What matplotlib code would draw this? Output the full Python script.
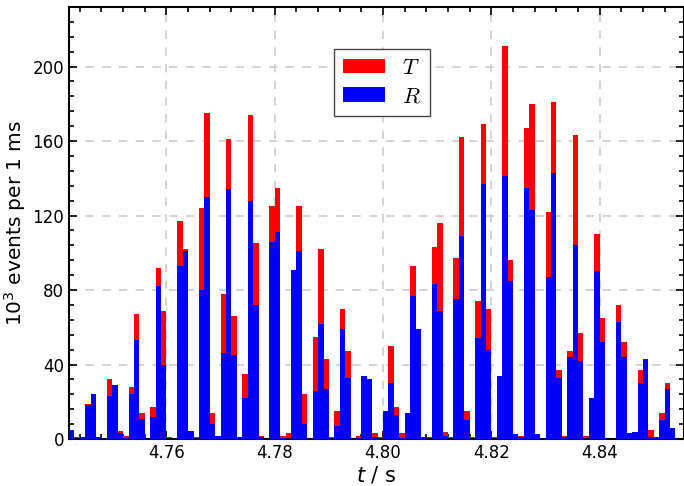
import numpy as np
import matplotlib
matplotlib.use('Agg')
import matplotlib.pyplot as plt
from matplotlib.ticker import MultipleLocator, FormatStrFormatter

# histogram of events in 1 ms bins, starting at t0
t0 = 4.742
bin_width = 0.001

# T (total) per bin, in 10^3 events
T = [4, 1.2, 1, 19, 23.5, 1, 0, 32, 29, 4.3,
     1.8, 28, 67, 14, 0, 17, 92, 69, 1, 0,
     117, 102, 4, 1, 124, 175, 14, 1.8, 78, 161,
     66, 1, 35, 174, 105, 1.8, 0, 125, 135, 1.8,
     3, 90, 125, 24, 0, 55, 102, 43, 1, 15,
     70, 47, 0, 1.8, 33, 31, 3, 1, 14, 50,
     17, 3, 13, 93, 58, 1, 1, 103, 116, 4,
     1, 97, 162, 15, 1, 74, 169, 70, 1, 33,
     211, 96, 2.9, 1.8, 167, 180, 2.9, 0, 122, 181,
     37, 1.8, 47, 163, 57, 1.8, 22, 110, 65, 0,
     0, 72, 52, 3, 4, 37, 42, 5, 1, 14,
     30, 6, 0]

# R per bin, in 10^3 events
R = [5, 0, 1, 18, 24, 1, 0, 23, 29, 3,
     0.5, 24, 53, 11, 0, 12, 82, 40, 0, 0,
     93, 101, 4.3, 0, 80, 130, 8, 1.8, 46, 134,
     45, 1, 22, 128, 72, 1, 0, 106, 111, 0.5,
     0, 91, 101, 8, 0, 26, 62, 27, 0, 7,
     59, 33, 0, 0.5, 34, 32, 1, 0, 15, 30,
     13, 0.5, 14, 77, 59, 1, 0, 83, 69, 1.8,
     0, 75, 109, 10, 0, 54, 137, 48, 0, 34,
     141, 85, 2.9, 1, 135, 123, 2.9, 0, 87, 143,
     33, 1, 44, 104, 42, 0, 22, 90, 52, 0,
     0, 63, 44, 3, 4, 30, 43, 1, 1, 10,
     27, 6, 0]

edges = t0 + bin_width * np.arange(len(T))

fig = plt.figure(figsize=(6.84, 4.86), dpi=100)
ax = fig.add_axes([69 / 684, 1 - 439 / 486, 615 / 684, 432 / 486])

ax.bar(edges, T, width=bin_width, align='edge', color='#ff0000', linewidth=0, label='$T$', zorder=2)
ax.bar(edges, R, width=bin_width, align='edge', color='#0000ff', linewidth=0, label='$R$', zorder=3)

ax.set_xlim(t0, t0 + 615 / 5415)
ax.set_ylim(0, 232)

ax.xaxis.set_major_locator(MultipleLocator(0.02))
ax.xaxis.set_minor_locator(MultipleLocator(0.004))
ax.xaxis.set_major_formatter(FormatStrFormatter('%.2f'))
ax.yaxis.set_major_locator(MultipleLocator(40))
ax.yaxis.set_minor_locator(MultipleLocator(8))

ax.tick_params(which='both', direction='in', top=True, right=True, labelsize=12, width=1.2)
ax.tick_params(which='major', length=6)
ax.tick_params(which='minor', length=3.5)
for s in ax.spines.values():
    s.set_linewidth(1.5)

ax.grid(True, which='major', color='#cccccc', linestyle=(0, (5, 5)), linewidth=1.2, zorder=0)
ax.set_axisbelow(True)

ax.set_xlabel('$t$ / s', fontsize=15, labelpad=2)
ax.set_ylabel('$10^3$ events per 1 ms', fontsize=14.5, labelpad=3)

leg = ax.legend(loc='upper left', bbox_to_anchor=(0.431, 0.903), fancybox=False,
                edgecolor='#444444', framealpha=1, handlelength=1.9, handleheight=0.65,
                handletextpad=0.75, prop=dict(size=16, math_fontfamily='cm'),
                borderpad=0.4, labelspacing=0.4, borderaxespad=0)
leg.get_frame().set_linewidth(1.0)

fig.savefig('out.png', dpi=100)
